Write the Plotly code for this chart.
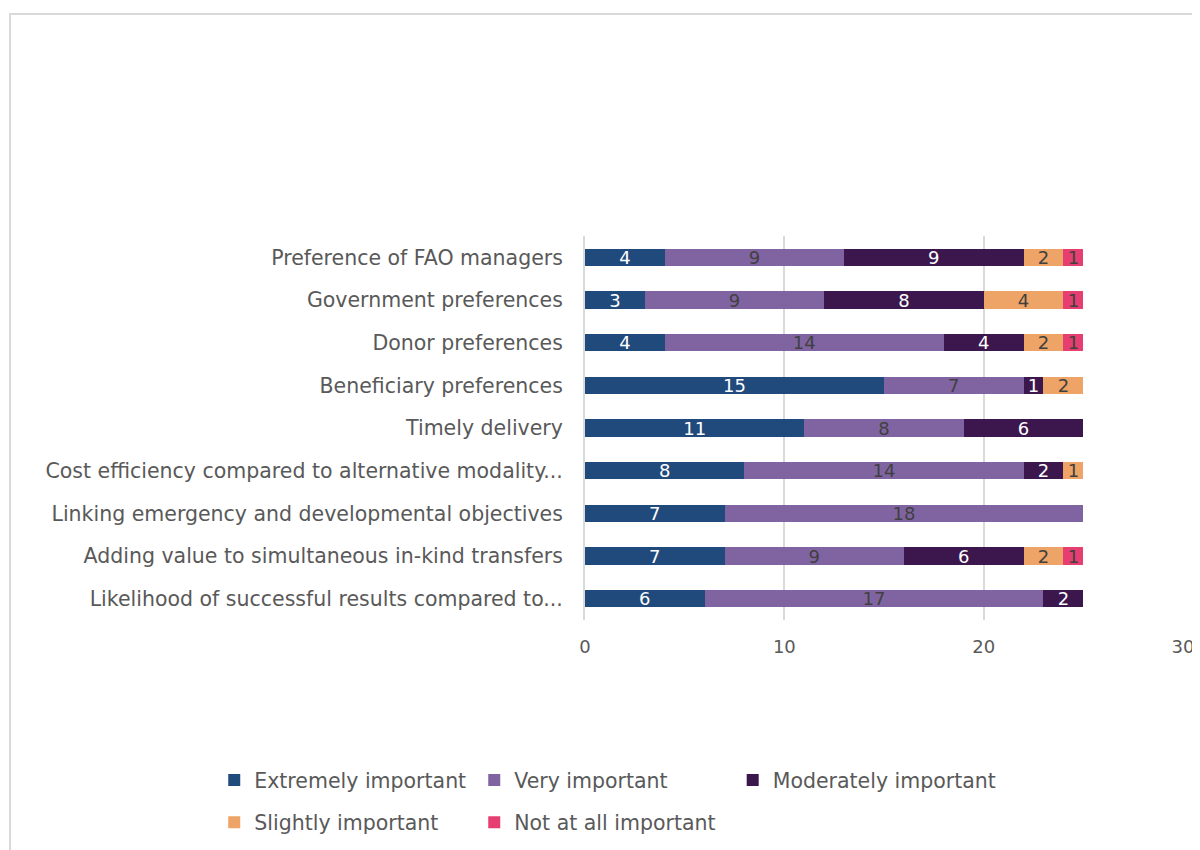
import plotly.graph_objects as go

# categories, listed top to bottom as in the chart
categories = [
    'Preference of FAO managers',
    'Government preferences',
    'Donor preferences',
    'Beneficiary preferences',
    'Timely delivery',
    'Cost efficiency compared to alternative modality...',
    'Linking emergency and developmental objectives',
    'Adding value to simultaneous in-kind transfers',
    'Likelihood of successful results compared to...',
]

extremely = [4, 3, 4, 15, 11, 8, 7, 7, 6]
very = [9, 9, 14, 7, 8, 14, 18, 9, 17]
moderately = [9, 8, 4, 1, 6, 2, None, 6, 2]
slightly = [2, 4, 2, 2, None, 1, None, 2, None]
not_at_all = [1, 1, 1, None, None, None, None, 1, None]

series = [
    ('Extremely important', extremely, '#214A7C', 'white', 'legend'),
    ('Very important', very, '#8064A2', '#404040', 'legend'),
    ('Moderately important', moderately, '#3B174D', 'white', 'legend3'),
    ('Slightly important', slightly, '#EDA466', '#404040', 'legend2'),
    ('Not at all important', not_at_all, '#E63E70', '#404040', 'legend2'),
]

FONT = 'DejaVu Sans'
GREY = '#595959'

fig = go.Figure()
for name, vals, color, txtcolor, leg in series:
    fig.add_trace(go.Bar(
        y=categories, x=vals, name=name, orientation='h',
        marker=dict(color=color, line=dict(width=0)),
        text=vals, textposition='inside', insidetextanchor='middle',
        textangle=0,
        textfont=dict(color=txtcolor, size=18, family=FONT),
        width=0.4, legend=leg,
    ))

legend_style = dict(orientation='h', xanchor='left', yanchor='top',
                    entrywidth=215, entrywidthmode='pixels',
                    font=dict(size=20.5, color=GREY, family=FONT),
                    traceorder='normal', bgcolor='rgba(0,0,0,0)')
legend3_style = dict(orientation='h', xanchor='left', yanchor='top',
                     font=dict(size=20.5, color=GREY, family=FONT),
                     bgcolor='rgba(0,0,0,0)')

fig.update_layout(
    width=1200, height=850,
    barmode='stack',
    plot_bgcolor='white', paper_bgcolor='white',
    margin=dict(l=577, r=25, t=228, b=238),
    font=dict(family=FONT, color=GREY, size=18),
    uniformtext=dict(mode='show', minsize=14),
    showlegend=True,
    legend=dict(x=-0.62, y=-0.365, **legend_style),
    legend3=dict(x=0.247, y=-0.365, **legend3_style),
    legend2=dict(x=-0.62, y=-0.475, **legend_style),
    shapes=[dict(type='rect', xref='paper', yref='paper',
                 x0=-0.9615, x1=1.2, y0=-0.8, y1=1.578,
                 line=dict(color='#D9D9D9', width=2), layer='below')],
)

fig.update_xaxes(range=[0, 30], dtick=10, showgrid=True, gridcolor='#D9D9D9',
                 gridwidth=2, zeroline=False, showline=False,
                 tickfont=dict(size=18, color=GREY), ticklabelstandoff=14)
fig.update_yaxes(autorange='reversed', showline=True, linecolor='#D9D9D9',
                 linewidth=2, showgrid=False, ticks='',
                 tickfont=dict(size=20.5, color=GREY), ticklabelstandoff=16)

fig.write_html('out.html')
